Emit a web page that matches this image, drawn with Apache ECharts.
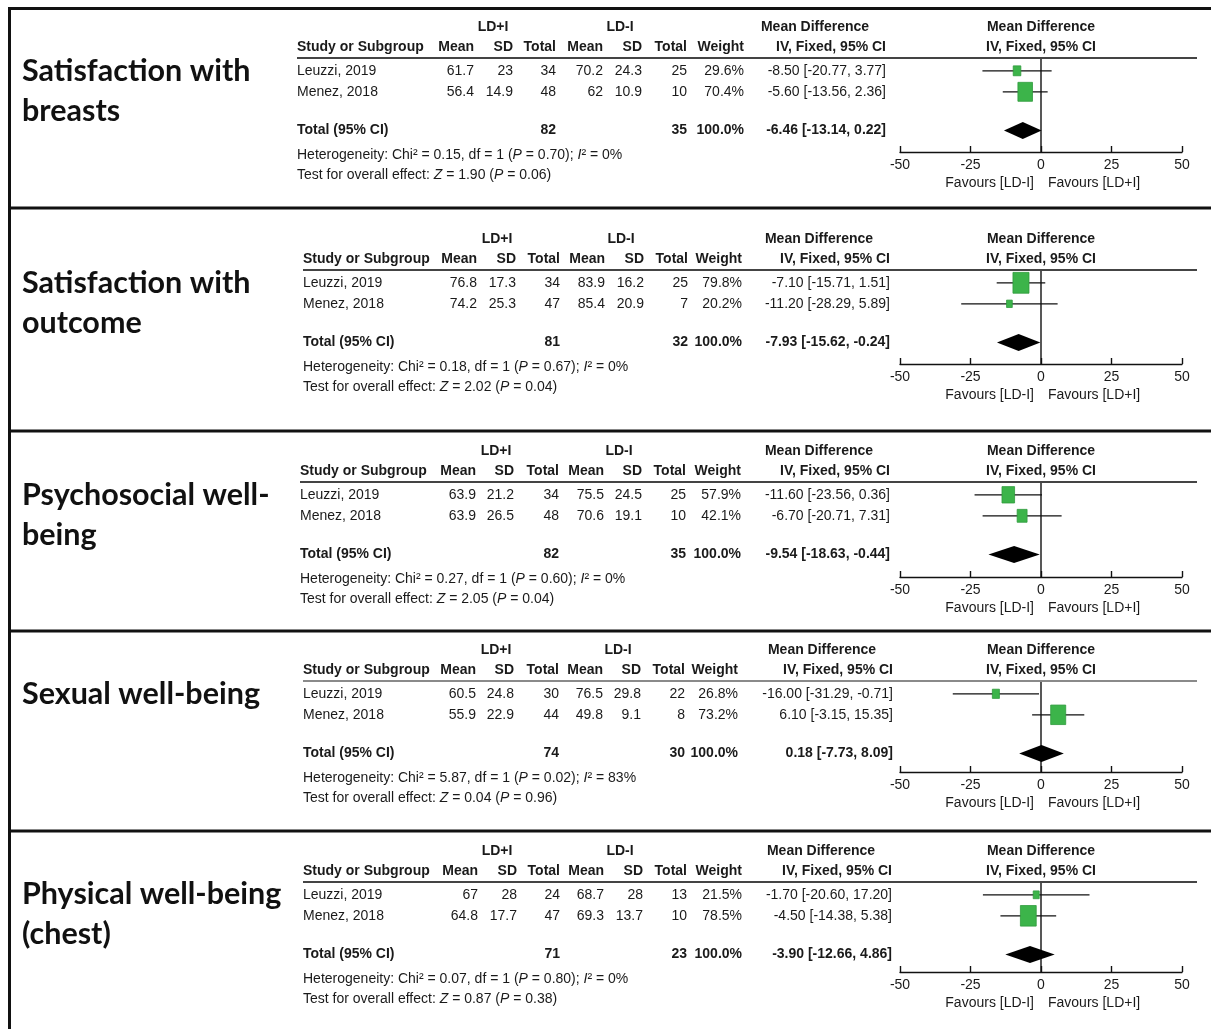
<!DOCTYPE html>
<html><head><meta charset="utf-8">
<script src="https://cdn.jsdelivr.net/npm/echarts@6/dist/echarts.min.js"></script>
<style>html,body{margin:0;padding:0;background:#fff}#c{width:1211px;height:1029px}</style>
</head><body><div id="c"></div>
<script>
// ---------------- DATA ----------------
const outcomes = ['Satisfaction with\nbreasts', 'Satisfaction with\noutcome', 'Psychosocial well-\nbeing', 'Sexual well-being', 'Physical well-being\n(chest)'];
const studies = ['Leuzzi, 2019', 'Menez, 2018'];
const expMean = [[61.7, 56.4], [76.8, 74.2], [63.9, 63.9], [60.5, 55.9], [67, 64.8]];
const expSD = [[23, 14.9], [17.3, 25.3], [21.2, 26.5], [24.8, 22.9], [28, 17.7]];
const expTotal = [[34, 48], [34, 47], [34, 48], [30, 44], [24, 47]];
const ctlMean = [[70.2, 62], [83.9, 85.4], [75.5, 70.6], [76.5, 49.8], [68.7, 69.3]];
const ctlSD = [[24.3, 10.9], [16.2, 20.9], [24.5, 19.1], [29.8, 9.1], [28, 13.7]];
const ctlTotal = [[25, 10], [25, 7], [25, 10], [22, 8], [13, 10]];
const weight = [[29.6, 70.4], [79.8, 20.2], [57.9, 42.1], [26.8, 73.2], [21.5, 78.5]];
const md = [[-8.50, -5.60], [-7.10, -11.20], [-11.60, -6.70], [-16.00, 6.10], [-1.70, -4.50]];
const ciLow = [[-20.77, -13.56], [-15.71, -28.29], [-23.56, -20.71], [-31.29, -3.15], [-20.60, -14.38]];
const ciHigh = [[3.77, 2.36], [1.51, 5.89], [0.36, 7.31], [-0.71, 15.35], [17.20, 5.38]];
const totalExp = [82, 81, 82, 74, 71];
const totalCtl = [35, 32, 35, 30, 23];
const totalMD = [-6.46, -7.93, -9.54, 0.18, -3.90];
const totalLow = [-13.14, -15.62, -18.63, -7.73, -12.66];
const totalHigh = [0.22, -0.24, -0.44, 8.09, 4.86];
const chi2 = ['0.15', '0.18', '0.27', '5.87', '0.07'];
const dfVal = [1, 1, 1, 1, 1];
const hetP = ['0.70', '0.67', '0.60', '0.02', '0.80'];
const i2 = ['0%', '0%', '0%', '83%', '0%'];
const zVal = ['1.90', '2.02', '2.05', '0.04', '0.87'];
const zP = ['0.06', '0.04', '0.04', '0.96', '0.38'];
const xTicks = [-50, -25, 0, 25, 50];
const groupA = 'LD+I', groupB = 'LD-I';

// ---------------- LAYOUT ----------------
const FONT = '"Liberation Sans", Arial, sans-serif';
const TFONT = 'Lato, "Open Sans", sans-serif';
const INK = '#1a1a1a';
const sepY = [8.5, 208, 431, 631, 831];
const U = [58, 270, 482, 681, 882];           // header underline per panel
const AX = [94, 94, 95, 91, 90];              // axis offset below underline
const titleY = [91, 303, 515, 694, 914];
// [studyLeft, meanA, sdA, totA, meanB, sdB, totB, weight, ci] right edges
const cols = [
  [297, 474, 513, 556, 603, 642, 687, 744, 886],
  [303, 477, 516, 560, 605, 644, 688, 742, 890],
  [300, 476, 514, 559, 604, 642, 686, 741, 890],
  [303, 476, 514, 559, 603, 641, 685, 738, 893],
  [303, 478, 517, 560, 604, 643, 687, 742, 892]
];
const PL = 900, PW = 282, PC = 1041;
const ROWH = 21;

const graphic = [];
function txt(x, y, text, opt) {
  graphic.push({ type: 'text', x: x, y: y, silent: true, z: 10,
    style: Object.assign({ text: text, fill: INK, fontSize: 14, fontFamily: FONT,
      textAlign: 'left', textVerticalAlign: 'middle' }, opt || {}) });
}
function ln(x1, y1, x2, y2, w, c) {
  graphic.push({ type: 'line', silent: true, z: 5, shape: { x1: x1, y1: y1, x2: x2, y2: y2 },
    style: { stroke: c || '#111', lineWidth: w || 1 } });
}
const R = { textAlign: 'right' }, B = { fontWeight: 'bold' }, RB = { textAlign: 'right', fontWeight: 'bold' };
const richI = { i: { fontStyle: 'italic', fontSize: 14, fontFamily: FONT, fill: INK } };

// borders
ln(9.5, 7, 9.5, 1029, 3, '#111');
sepY.forEach(y => ln(8, y, 1211, y, 3, '#111'));

const grids = [], xAxes = [], yAxes = [], series = [];
const fmt = v => String(v);
const f2 = v => v.toFixed(2);

for (let p = 0; p < 5; p++) {
  const u = U[p], c = cols[p];
  // title
  txt(22, titleY[p], outcomes[p], { fontFamily: TFONT, fontWeight: 'bold', fontSize: 30.5, lineHeight: 40, fill: '#111' });
  // group headers
  txt(c[3] - 63, u - 31, groupA, { textAlign: 'center', fontWeight: 'bold' });
  txt(c[6] - 67, u - 31, groupB, { textAlign: 'center', fontWeight: 'bold' });
  txt(c[8] - 71, u - 31, 'Mean Difference', { textAlign: 'center', fontWeight: 'bold' });
  txt(PC, u - 31, 'Mean Difference', { textAlign: 'center', fontWeight: 'bold' });
  // column headers
  const hy = u - 11;
  txt(c[0], hy, 'Study or Subgroup', B);
  txt(c[1], hy, 'Mean', RB); txt(c[2], hy, 'SD', RB); txt(c[3], hy, 'Total', RB);
  txt(c[4], hy, 'Mean', RB); txt(c[5], hy, 'SD', RB); txt(c[6], hy, 'Total', RB);
  txt(c[7], hy, 'Weight', RB); txt(c[8], hy, 'IV, Fixed, 95% CI', RB);
  txt(PC, hy, 'IV, Fixed, 95% CI', { textAlign: 'center', fontWeight: 'bold' });
  ln(c[0], u, 1197, u, 2, p === 3 ? '#8a8a8a' : '#444');
  // study rows
  studies.forEach((s, i) => {
    const y = u + 12.8 + i * ROWH;
    txt(c[0], y, s);
    txt(c[1], y, fmt(expMean[p][i]), R); txt(c[2], y, fmt(expSD[p][i]), R); txt(c[3], y, fmt(expTotal[p][i]), R);
    txt(c[4], y, fmt(ctlMean[p][i]), R); txt(c[5], y, fmt(ctlSD[p][i]), R); txt(c[6], y, fmt(ctlTotal[p][i]), R);
    txt(c[7], y, weight[p][i].toFixed(1) + '%', R);
    txt(c[8], y, f2(md[p][i]) + ' [' + f2(ciLow[p][i]) + ', ' + f2(ciHigh[p][i]) + ']', R);
  });
  const ty = u + 72.5;
  txt(c[0], ty, 'Total (95% CI)', B);
  txt(c[3], ty, fmt(totalExp[p]), RB);
  txt(c[6], ty, fmt(totalCtl[p]), RB);
  txt(c[7], ty, '100.0%', RB);
  txt(c[8], ty, f2(totalMD[p]) + ' [' + f2(totalLow[p]) + ', ' + f2(totalHigh[p]) + ']', RB);
  txt(c[0], u + 97, 'Heterogeneity: Chi² = ' + chi2[p] + ', df = ' + dfVal[p] + ' ({i|P} = ' + hetP[p] + '); {i|I}² = ' + i2[p], { rich: richI });
  txt(c[0], u + 117, 'Test for overall effect: {i|Z} = ' + zVal[p] + ' ({i|P} = ' + zP[p] + ')', { rich: richI });
  const ay = u + AX[p];
  txt(PC - 7, ay + 31, 'Favours [' + groupB + ']', { textAlign: 'right' });
  txt(PC + 7, ay + 31, 'Favours [' + groupA + ']', { textAlign: 'left' });

  // chart coordinate system for the forest plot
  const yMax = AX[p] / ROWH;
  grids.push({ left: PL, top: u, width: PW, height: AX[p] });
  xAxes.push({ gridIndex: p, type: 'value', min: xTicks[0], max: xTicks[xTicks.length - 1], interval: xTicks[1] - xTicks[0],
    axisLine: { show: true, onZero: false, lineStyle: { color: '#111', width: 1.4 } },
    axisTick: { show: true, inside: true, length: 6, lineStyle: { color: '#111', width: 1.4 } },
    axisLabel: { fontSize: 14, color: INK, fontFamily: FONT, margin: 6 },
    splitLine: { show: false } });
  yAxes.push({ gridIndex: p, type: 'value', min: 0, max: yMax, inverse: true, show: false });

  const rows = studies.map((s, i) => [md[p][i], ciLow[p][i], ciHigh[p][i], weight[p][i], 0.61 + i, 0]);
  rows.push([totalMD[p], totalLow[p], totalHigh[p], 100, 3.45, 1]);
  series.push({
    type: 'line', xAxisIndex: p, yAxisIndex: p, data: [[0, 0], [0, yMax]], symbol: 'none', silent: true,
    lineStyle: { color: '#111', width: 1.4 }, z: 2
  });
  series.push({
    type: 'custom', xAxisIndex: p, yAxisIndex: p, data: rows, clip: false, silent: true, z: 3,
    renderItem: function (params, api) {
      const m = api.value(0), lo = api.value(1), hi = api.value(2), w = api.value(3), r = api.value(4), tot = api.value(5);
      const cc = api.coord([m, r]), a = api.coord([lo, r]), b = api.coord([hi, r]);
      if (tot) {
        const h = 8.5;
        return { type: 'polygon', shape: { points: [[a[0], cc[1]], [cc[0], cc[1] - h], [b[0], cc[1]], [cc[0], cc[1] + h]] },
          style: { fill: '#000' } };
      }
      const s = 0.6 * Math.pow(w, 0.75), sh = s * 1.3;
      return { type: 'group', children: [
        { type: 'line', shape: { x1: a[0], y1: a[1], x2: b[0], y2: b[1] }, style: { stroke: '#111', lineWidth: 1.3 } },
        { type: 'rect', shape: { x: cc[0] - s / 2, y: cc[1] - sh / 2, width: s, height: sh },
          style: { fill: '#3cb44a', stroke: '#2f9a3c', lineWidth: 0.8 } }
      ] };
    }
  });
}

const chart = echarts.init(document.getElementById('c'));
chart.setOption({
  backgroundColor: '#fff',
  animation: false,
  grid: grids, xAxis: xAxes, yAxis: yAxes, series: series,
  graphic: { elements: graphic }
});
</script></body></html>
